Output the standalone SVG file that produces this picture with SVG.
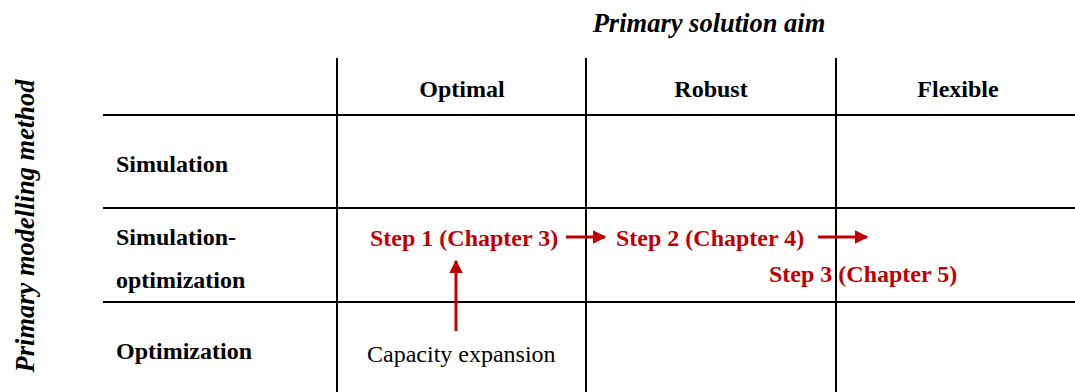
<svg xmlns="http://www.w3.org/2000/svg" width="1075" height="392" viewBox="0 0 1075 392">
  <defs>
    <style>
      .grid { stroke: #000; stroke-width: 2; fill: none; }
      .hdr { font-family: "Liberation Serif", "Times New Roman", serif; font-weight: bold; font-size: 24px; fill: #000; }
      .axis { font-family: "Liberation Serif", "Times New Roman", serif; font-weight: bold; font-style: italic; font-size: 26.5px; fill: #000; }
      .step { font-family: "Liberation Serif", "Times New Roman", serif; font-weight: bold; font-size: 24px; fill: #c00000; }
      .plain { font-family: "Liberation Serif", "Times New Roman", serif; font-size: 24px; fill: #000; }
      .arrow { stroke: #c00000; stroke-width: 3; fill: none; }
    </style>
    <marker id="head" viewBox="0 0 10 10" refX="9" refY="5" markerWidth="4.5" markerHeight="4.5" orient="auto" markerUnits="strokeWidth">
      <path d="M0,0 L10,5 L0,10 z" fill="#c00000"/>
    </marker>
  </defs>

  <rect width="1075" height="392" fill="#fff"/>

  <!-- axis titles -->
  <text class="axis" x="709" y="32" text-anchor="middle">Primary solution aim</text>
  <text class="axis" transform="translate(34,226) rotate(-90)" text-anchor="middle">Primary modelling method</text>

  <!-- table grid -->
  <g id="grid">
    <line class="grid" x1="337" y1="58" x2="337" y2="392"/>
    <line class="grid" x1="586" y1="58" x2="586" y2="392"/>
    <line class="grid" x1="836" y1="58" x2="836" y2="392"/>
    <line class="grid" x1="103" y1="115" x2="1075" y2="115"/>
    <line class="grid" x1="103" y1="208" x2="1075" y2="208"/>
    <line class="grid" x1="103" y1="302" x2="1075" y2="302"/>
  </g>

  <!-- column headers -->
  <g id="col-optimal"><text class="hdr" x="462" y="97" text-anchor="middle">Optimal</text></g>
  <g id="col-robust"><text class="hdr" x="711" y="97" text-anchor="middle">Robust</text></g>
  <g id="col-flexible"><text class="hdr" x="958" y="97" text-anchor="middle">Flexible</text></g>

  <!-- row headers -->
  <g id="row-simulation"><text class="hdr" x="116" y="172">Simulation</text></g>
  <g id="row-simopt">
    <text class="hdr" x="116" y="245">Simulation-</text>
    <text class="hdr" x="116" y="288">optimization</text>
  </g>
  <g id="row-optimization"><text class="hdr" x="116" y="359">Optimization</text></g>

  <!-- steps -->
  <g id="step1"><text class="step" x="370" y="246">Step 1 (Chapter 3)</text></g>
  <g id="step2"><text class="step" x="616" y="246">Step 2 (Chapter 4)</text></g>
  <g id="step3"><text class="step" x="769" y="282">Step 3 (Chapter 5)</text></g>
  <g id="capacity"><text class="plain" x="367" y="362">Capacity expansion</text></g>

  <!-- connectors -->
  <g id="connectors">
    <line class="arrow" x1="566" y1="237" x2="605" y2="237" marker-end="url(#head)"/>
    <line class="arrow" x1="818" y1="237" x2="867" y2="237" marker-end="url(#head)"/>
    <line class="arrow" x1="456" y1="331" x2="456" y2="261" marker-end="url(#head)"/>
  </g>
</svg>
